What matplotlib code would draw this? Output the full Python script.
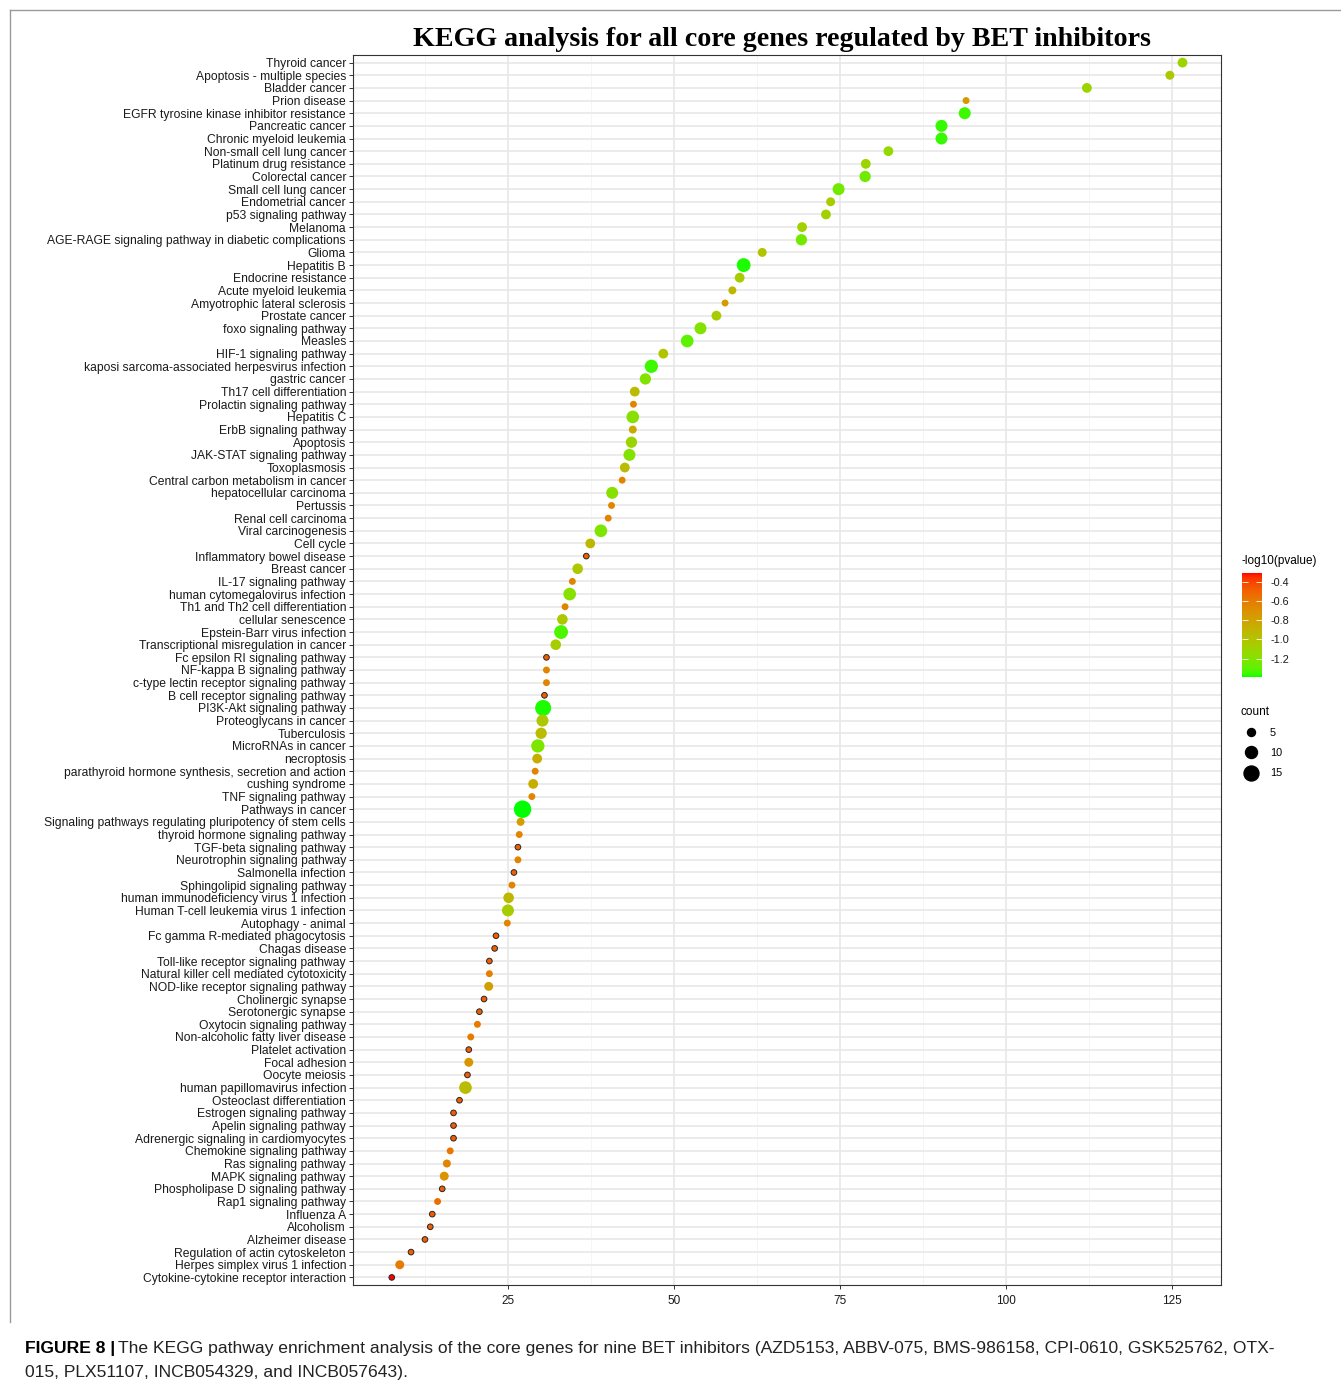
import numpy as np
import matplotlib
matplotlib.use("Agg")
import matplotlib.pyplot as plt
from matplotlib.colors import ListedColormap
from matplotlib.lines import Line2D

# pathways, top to bottom
pathways = [
    "Thyroid cancer", "Apoptosis - multiple species", "Bladder cancer", "Prion disease",
    "EGFR tyrosine kinase inhibitor resistance", "Pancreatic cancer", "Chronic myeloid leukemia",
    "Non-small cell lung cancer", "Platinum drug resistance", "Colorectal cancer",
    "Small cell lung cancer", "Endometrial cancer", "p53 signaling pathway", "Melanoma",
    "AGE-RAGE signaling pathway in diabetic complications", "Glioma", "Hepatitis B",
    "Endocrine resistance", "Acute myeloid leukemia", "Amyotrophic lateral sclerosis",
    "Prostate cancer", "foxo signaling pathway", "Measles", "HIF-1 signaling pathway",
    "kaposi sarcoma-associated herpesvirus infection", "gastric cancer", "Th17 cell differentiation",
    "Prolactin signaling pathway", "Hepatitis C", "ErbB signaling pathway", "Apoptosis",
    "JAK-STAT signaling pathway", "Toxoplasmosis", "Central carbon metabolism in cancer",
    "hepatocellular carcinoma", "Pertussis", "Renal cell carcinoma", "Viral carcinogenesis",
    "Cell cycle", "Inflammatory bowel disease", "Breast cancer", "IL-17 signaling pathway",
    "human cytomegalovirus infection", "Th1 and Th2 cell differentiation", "cellular senescence",
    "Epstein-Barr virus infection", "Transcriptional misregulation in cancer",
    "Fc epsilon RI signaling pathway", "NF-kappa B signaling pathway",
    "c-type lectin receptor signaling pathway", "B cell receptor signaling pathway",
    "PI3K-Akt signaling pathway", "Proteoglycans in cancer", "Tuberculosis", "MicroRNAs in cancer",
    "necroptosis", "parathyroid hormone synthesis, secretion and action", "cushing syndrome",
    "TNF signaling pathway", "Pathways in cancer",
    "Signaling pathways regulating pluripotency of stem cells", "thyroid hormone signaling pathway",
    "TGF-beta signaling pathway", "Neurotrophin signaling pathway", "Salmonella infection",
    "Sphingolipid signaling pathway", "human immunodeficiency virus 1 infection",
    "Human T-cell leukemia virus 1 infection", "Autophagy - animal",
    "Fc gamma R-mediated phagocytosis", "Chagas disease", "Toll-like receptor signaling pathway",
    "Natural killer cell mediated cytotoxicity", "NOD-like receptor signaling pathway",
    "Cholinergic synapse", "Serotonergic synapse", "Oxytocin signaling pathway",
    "Non-alcoholic fatty liver disease", "Platelet activation", "Focal adhesion", "Oocyte meiosis",
    "human papillomavirus infection", "Osteoclast differentiation", "Estrogen signaling pathway",
    "Apelin signaling pathway", "Adrenergic signaling in cardiomyocytes",
    "Chemokine signaling pathway", "Ras signaling pathway", "MAPK signaling pathway",
    "Phospholipase D signaling pathway", "Rap1 signaling pathway", "Influenza A", "Alcoholism",
    "Alzheimer disease", "Regulation of actin cytoskeleton", "Herpes simplex virus 1 infection",
    "Cytokine-cytokine receptor interaction",
]

xvals = [
    126.6, 124.7, 112.2, 94.0, 93.8, 90.3, 90.3, 82.3, 78.9, 78.8,
    74.8, 73.6, 72.9, 69.3, 69.2, 63.3, 60.5, 59.9, 58.8, 57.7,
    56.4, 54.0, 52.0, 48.4, 46.6, 45.7, 44.1, 43.9, 43.8, 43.8,
    43.6, 43.3, 42.6, 42.2, 40.7, 40.6, 40.1, 39.0, 37.4, 36.8,
    35.5, 34.7, 34.3, 33.6, 33.2, 33.0, 32.2, 30.8, 30.8, 30.8,
    30.5, 30.3, 30.2, 30.0, 29.5, 29.4, 29.1, 28.8, 28.6, 27.2,
    26.9, 26.7, 26.5, 26.5, 25.9, 25.6, 25.1, 25.0, 24.9, 23.2,
    23.0, 22.2, 22.2, 22.1, 21.4, 20.7, 20.4, 19.4, 19.1, 19.1,
    18.9, 18.6, 17.7, 16.8, 16.8, 16.8, 16.3, 15.8, 15.4, 15.1,
    14.4, 13.6, 13.3, 12.5, 10.4, 8.7, 7.5,
]

counts = [
    7, 6, 7, 4, 10, 10, 10, 7, 7, 9,
    10, 6, 7, 7, 9, 6, 13, 7, 5, 4,
    7, 10, 11, 7, 12, 9, 7, 4, 11, 5,
    9, 10, 7, 4, 10, 4, 4, 11, 7, 3,
    8, 4, 11, 4, 8, 13, 8, 3, 4, 4,
    3, 17, 10, 9, 12, 7, 4, 7, 4, 20,
    5, 4, 3, 4, 3, 4, 8, 10, 4, 3,
    3, 3, 4, 6, 3, 3, 4, 4, 3, 6,
    3, 11, 3, 3, 3, 3, 4, 5, 6, 3,
    4, 3, 3, 3, 3, 6, 3,
]

logp = [
    -1.10, -1.02, -1.10, -0.75, -1.35, -1.36, -1.36, -1.13, -1.10, -1.25,
    -1.25, -1.05, -1.08, -1.08, -1.25, -1.00, -1.38, -1.05, -0.92, -0.75,
    -1.05, -1.20, -1.30, -1.00, -1.35, -1.20, -0.95, -0.65, -1.18, -0.85,
    -1.10, -1.20, -0.95, -0.65, -1.18, -0.65, -0.65, -1.22, -0.92, -0.48,
    -1.02, -0.65, -1.18, -0.65, -1.02, -1.33, -1.05, -0.48, -0.65, -0.65,
    -0.48, -1.38, -1.02, -0.95, -1.22, -0.87, -0.65, -0.87, -0.65, -1.39,
    -0.78, -0.65, -0.48, -0.65, -0.48, -0.65, -0.92, -1.05, -0.65, -0.48,
    -0.48, -0.48, -0.62, -0.78, -0.48, -0.48, -0.60, -0.60, -0.48, -0.72,
    -0.48, -0.95, -0.48, -0.48, -0.48, -0.48, -0.58, -0.65, -0.72, -0.48,
    -0.55, -0.48, -0.48, -0.48, -0.48, -0.60, -0.31,
]

xticks = [25, 50, 75, 100, 125]
cbar_ticks = [-0.4, -0.6, -0.8, -1.0, -1.2]
legend_counts = [5, 10, 15]

title = "KEGG analysis for all core genes regulated by BET inhibitors"
caption_bold = "FIGURE 8 |"
caption_1 = ("The KEGG pathway enrichment analysis of the core genes for nine BET inhibitors "
             "(AZD5153, ABBV-075, BMS-986158, CPI-0610, GSK525762, OTX-")
caption_2 = "015, PLX51107, INCB054329, and INCB057643)."

# green -> red gradient interpolated in Lab space (like ggplot)
M = np.array([[0.4124, 0.3576, 0.1805], [0.2126, 0.7152, 0.0722], [0.0193, 0.1192, 0.9505]])
WHITE = np.array([0.95047, 1.0, 1.08883])


def srgb_to_lab(c):
    c = np.asarray(c, float)
    lin = np.where(c <= 0.04045, c / 12.92, ((c + 0.055) / 1.055) ** 2.4)
    xyz = M @ lin / WHITE
    f = np.where(xyz > 0.008856, np.cbrt(xyz), 7.787 * xyz + 16 / 116)
    return np.array([116 * f[1] - 16, 500 * (f[0] - f[1]), 200 * (f[1] - f[2])])


def lab_to_srgb(lab):
    L, a, b = lab
    fy = (L + 16) / 116
    f = np.array([fy + a / 500, fy, fy - b / 200])
    xyz = np.where(f > 0.2069, f ** 3, (f - 16 / 116) / 7.787) * WHITE
    lin = np.clip(np.linalg.inv(M) @ xyz, 0, 1)
    c = np.where(lin <= 0.0031308, 12.92 * lin, 1.055 * lin ** (1 / 2.4) - 0.055)
    return np.clip(c, 0, 1)


lab_lo = srgb_to_lab([0, 1, 0])
lab_hi = srgb_to_lab([1, 0, 0])
cmap = ListedColormap([lab_to_srgb(lab_lo + t * (lab_hi - lab_lo)) for t in np.linspace(0, 1, 256)])

plt.rcParams["font.family"] = ["Liberation Sans", "DejaVu Sans"]

W, H = 1341, 1388
fig = plt.figure(figsize=(W / 100, H / 100), dpi=100)
ax = fig.add_axes([353 / W, 1 - 1285 / H, (1221 - 353) / W, (1285 - 55) / H])

ypos = np.arange(len(pathways))
cnt = np.array(counts)
sizes = 8.3 * (cnt - 1)
edges = ["#262626" if c <= 3 else "none" for c in counts]
sc = ax.scatter(xvals, ypos, s=sizes, c=logp, cmap=cmap, vmin=-1.39, vmax=-0.31,
                edgecolors=edges, linewidths=0.7, zorder=3)

ax.set_ylim(len(pathways) - 0.4, -0.6)
ax.set_yticks(ypos)
ax.set_yticklabels(pathways, fontsize=8.7, color="#1a1a1a")
ax.set_xlim(1.66, 132.4)
ax.set_xticks(xticks)
ax.set_xticklabels([str(t) for t in xticks], fontsize=8.5, color="#1a1a1a")
ax.set_xticks([12.5, 37.5, 62.5, 87.5, 112.5], minor=True)
ax.tick_params(axis="both", which="major", length=3, width=0.7, color="#333333", pad=2)
ax.tick_params(axis="x", which="major", pad=4)
ax.tick_params(axis="x", which="minor", length=0)
ax.grid(which="major", color="#E8E8E8", linewidth=1.2, zorder=0)
ax.grid(which="minor", axis="x", color="#F4F4F4", linewidth=0.6, zorder=0)
ax.set_axisbelow(True)
for sp in ax.spines.values():
    sp.set_color("#333333")
    sp.set_linewidth(0.8)

fig.text((412 + 1151) / 2 / W, 1 - 39 / H, title, ha="center", va="center",
         family="Liberation Serif", weight="bold", fontsize=20.2)

# colour bar
cax = fig.add_axes([1242 / W, 1 - 677 / H, 20 / W, 104 / H])
cb = fig.colorbar(sc, cax=cax, ticks=cbar_ticks)
cb.outline.set_visible(False)
cb.ax.set_yticklabels(["%.1f" % t for t in cbar_ticks], fontsize=7.8, color="#1a1a1a")
cb.ax.tick_params(direction="in", length=4, width=0.6, color="white", left=True, right=True, pad=6)
fig.text(1241 / W, 1 - 561 / H, "-log10(pvalue)", fontsize=8.5, va="center", ha="left")

# size legend
handles = [Line2D([], [], marker="o", linestyle="none", color="black",
                  markersize=np.sqrt(8.3 * (c - 1))) for c in legend_counts]
leg = fig.legend(handles, [str(c) for c in legend_counts], title="count",
                 loc="upper left", bbox_to_anchor=(1233 / W, 1 - 698 / H), frameon=False,
                 fontsize=7.8, title_fontsize=8.5, labelspacing=0.95, handletextpad=0.8,
                 borderpad=0.2, handlelength=1.9)
leg._legend_box.align = "left"

# caption
fig.canvas.draw()
renderer = fig.canvas.get_renderer()
tb = fig.text(25 / W, 1 - 1348 / H, caption_bold, fontsize=12.6, weight="bold", va="center")
bb = tb.get_window_extent(renderer)
fig.text((bb.x1 + 3) / W, 1 - 1348 / H, caption_1, fontsize=12.6, va="center", color="#222222")
fig.text(25 / W, 1 - 1373 / H, caption_2, fontsize=12.6, va="center", color="#222222")

# page frame
fig.add_artist(Line2D([10 / W, 1], [1 - 10 / H] * 2, transform=fig.transFigure, color="#9a9a9a", lw=1))
fig.add_artist(Line2D([10 / W] * 2, [1 - 10 / H, 1 - 1322 / H], transform=fig.transFigure, color="#9a9a9a", lw=1))

fig.savefig("out.png", dpi=100)
